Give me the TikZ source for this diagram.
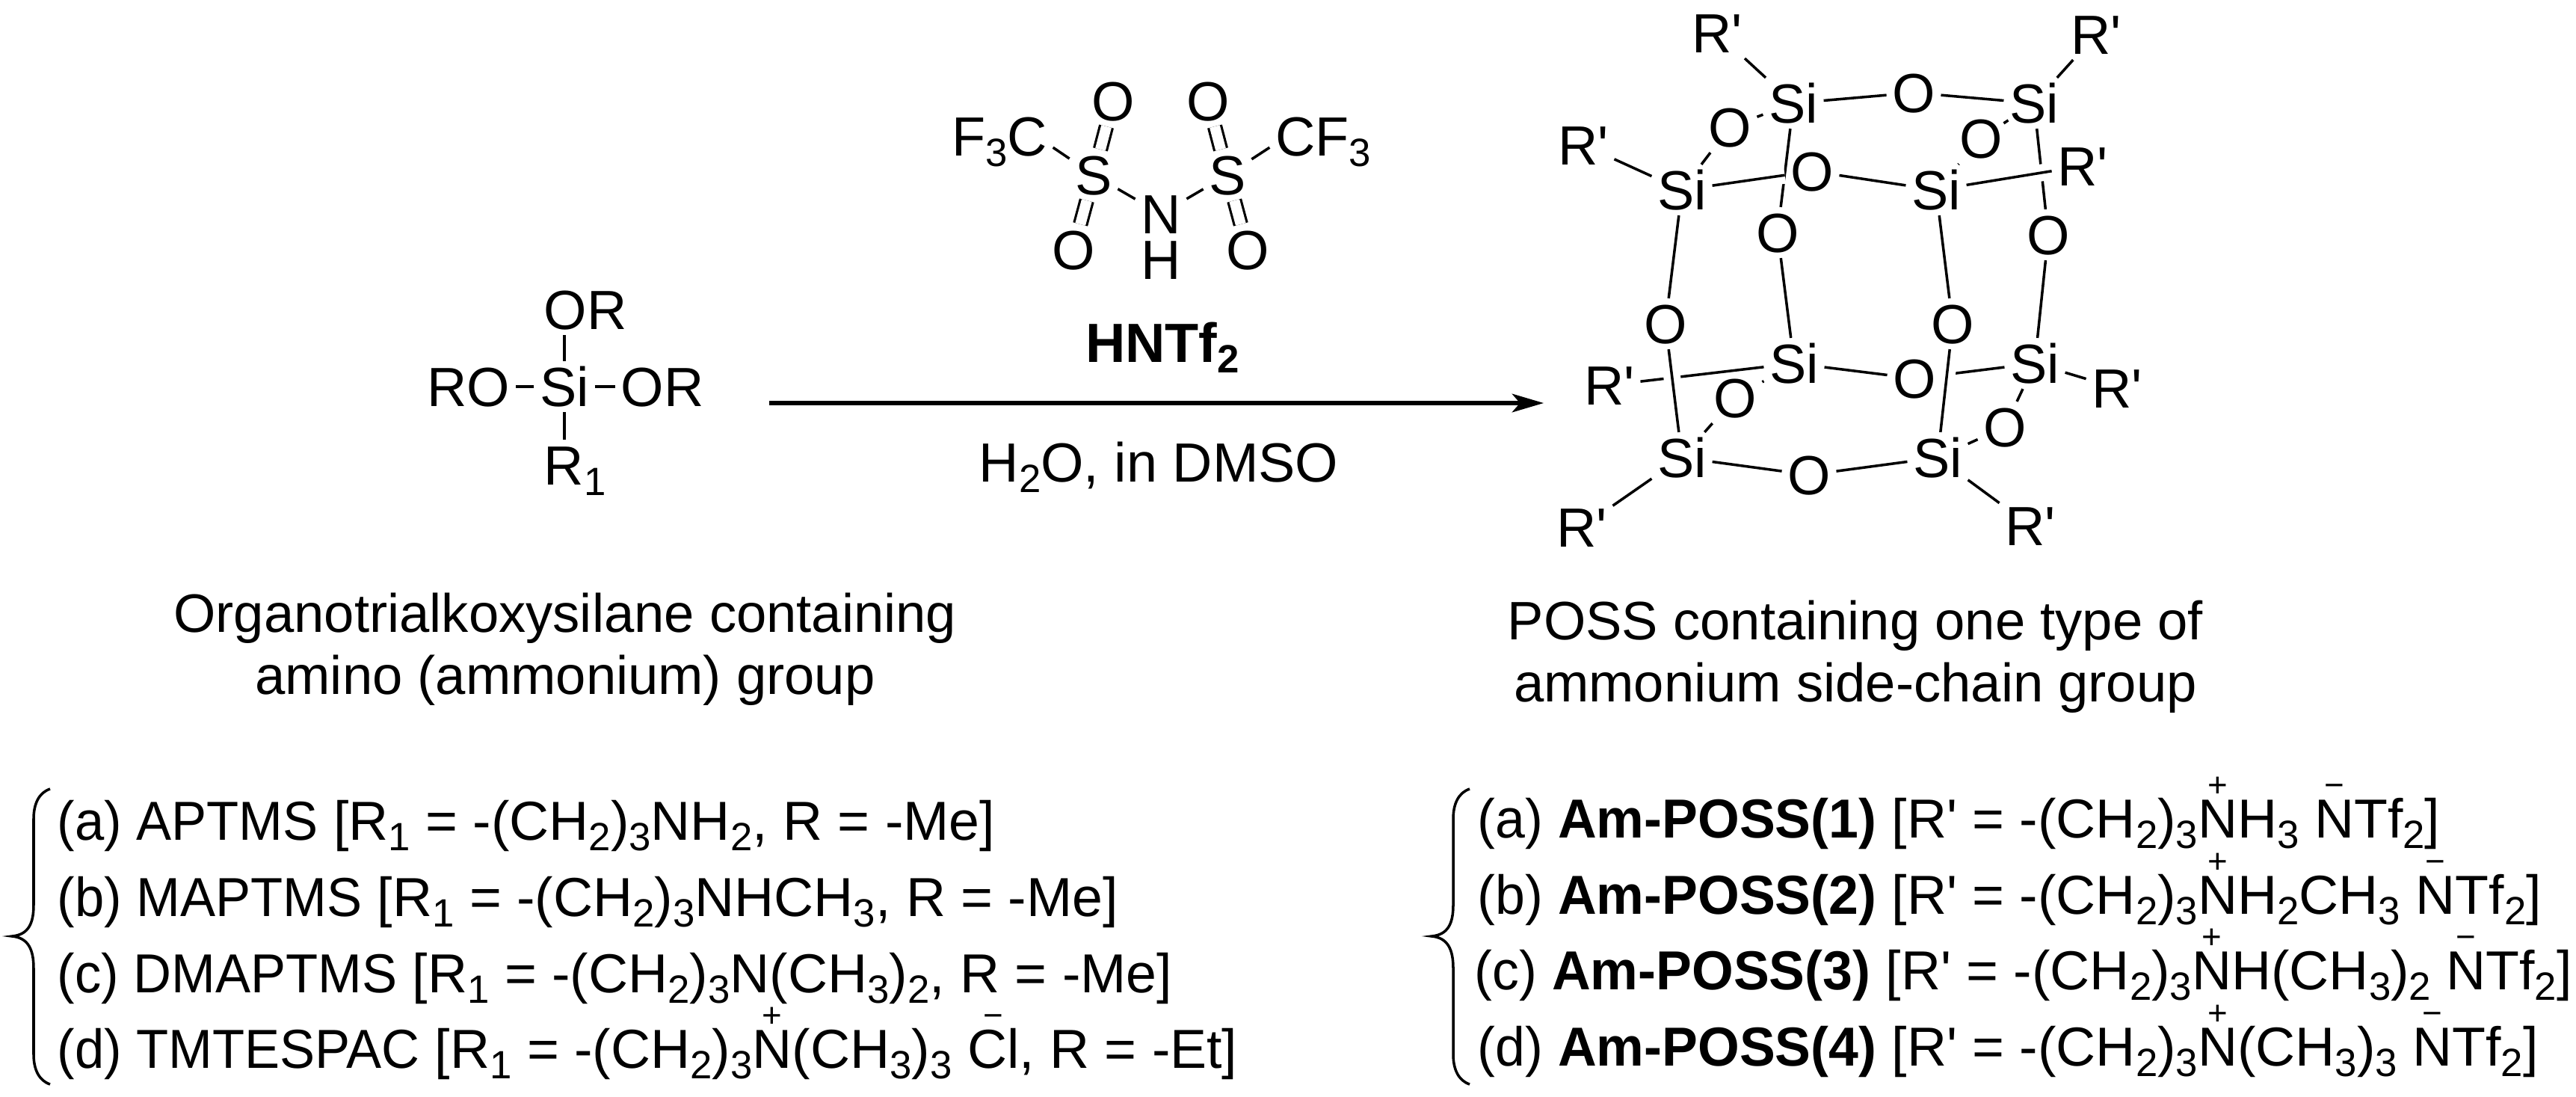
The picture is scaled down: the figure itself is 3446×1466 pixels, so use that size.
\documentclass[tikz,border=0pt]{standalone}
\usepackage{fontspec}
\usepackage{graphicx}
\usepackage{tikz}
\usetikzlibrary{arrows.meta}
\setmainfont{Liberation Sans}
\newcommand{\subs}[1]{\raisebox{-4pt}{\fontsize{15}{15}\selectfont #1}}
\newcommand{\chg}[2]{\leavevmode\ooalign{\hfil\raisebox{15.5pt}{\fontsize{13}{13}\selectfont #1}\hfil\cr #2\cr}}
\newcommand{\head}[2]{\scalebox{#1}[1]{#2}}
\newcommand{\rprime}{R\textquotesingle}

\begin{document}
\begin{tikzpicture}[
        x=0.01cm, y=-0.01cm,
        every node/.style = {font=\fontsize{21}{27}\selectfont},
        atom/.style = {text height=15pt, text depth=0pt, inner sep=2pt},
        caption/.style = {align=center, font=\fontsize{20.6}{23.6}\selectfont},
        listline/.style = {anchor=base west, inner sep=0pt, font=\fontsize{20.9}{27}\selectfont},
        bond/.style = {line width=1pt},
        dblbond/.style = {line width=0.9pt, double, double distance=4pt},
        overbond/.style = {bond, preaction={draw=white, line width=6.5pt}}
    ]
    \useasboundingbox (0,0) rectangle (3446,1466);

    \node[atom] (si0) at (755,517) {Si};
    \node[atom] (orup) at (783,414) {OR};
    \node[atom] (roleft) at (627,517) {RO};
    \node[atom] (orright) at (886,517) {OR};
    \node[atom] (rone) at (769,622) {R\subs{1}};
    \draw[bond] (si0) -- (si0 |- orup.south);
    \draw[bond] (si0) -- (roleft);
    \draw[bond] (si0) -- (orright);
    \draw[bond] (si0) -- (si0 |- rone.north);

    \node[atom] (fc) at (1337,182) {F\subs{3}C};
    \node[atom] (cf) at (1770,182) {CF\subs{3}};
    \node[atom] (sa) at (1463,234) {S};
    \node[atom] (sb) at (1642,234) {S};
    \node[atom] (oa) at (1489,135) {O};
    \node[atom] (ob) at (1616,135) {O};
    \node[atom] (oc) at (1436,334) {O};
    \node[atom] (od) at (1669,334) {O};
    \node[atom] (nh) at (1553,286) {N};
    \node[atom] (hn) at (1553,347) {H};
    \draw[bond] (fc.-12) -- (sa);
    \draw[bond] (cf.192) -- (sb);
    \draw[bond] (sa) -- (nh);
    \draw[bond] (sb) -- (nh);
    \draw[dblbond] (sa) -- (oa);
    \draw[dblbond] (sa) -- (oc);
    \draw[dblbond] (sb) -- (ob);
    \draw[dblbond] (sb) -- (od);

    \node[atom] (hntf) at (1555,458) {\bfseries HNTf\subs{2}};
    \node[atom] (water) at (1550,618) {H\subs{2}O, in DMSO};
    \coordinate (arrowstart) at (1029,539);
    \coordinate (arrowend) at (2065,539);
    \draw[line width=1.5pt, -{Stealth[length=12pt, width=7pt, inset=3pt]}] (arrowstart) -- (arrowend);

    \node[atom] (sia) at (2399,138) {Si};
    \node[atom] (sib) at (2721,138) {Si};
    \node[atom] (sic) at (2250,254) {Si};
    \node[atom] (sid) at (2590,254) {Si};
    \node[atom] (sie) at (2400,486) {Si};
    \node[atom] (sif) at (2722,486) {Si};
    \node[atom] (sig) at (2250,612) {Si};
    \node[atom] (sih) at (2592,612) {Si};
    \node[atom] (oab) at (2560,124) {O};
    \node[atom] (oac) at (2314,170) {O};
    \node[atom] (obd) at (2650,185) {O};
    \node[atom] (ocd) at (2424,229) {O};
    \node[atom] (oae) at (2378,311) {O};
    \node[atom] (obf) at (2740,314) {O};
    \node[atom] (ocg) at (2228,433) {O};
    \node[atom] (odh) at (2612,433) {O};
    \node[atom] (oef) at (2561,506) {O};
    \node[atom] (oeg) at (2321,532) {O};
    \node[atom] (ofh) at (2682,571) {O};
    \node[atom] (ogh) at (2420,635) {O};
    \node[atom] (ra) at (2297,44) {\rprime};
    \node[atom] (rb) at (2804,46) {\rprime};
    \node[atom] (rc) at (2118,194) {\rprime};
    \node[atom] (rd) at (2786,222) {\rprime};
    \node[atom] (re) at (2153,515) {\rprime};
    \node[atom] (rf) at (2832,519) {\rprime};
    \node[atom] (rg) at (2116,705) {\rprime};
    \node[atom] (rh) at (2716,703) {\rprime};

    \draw[bond] (sia) -- (oab);
    \draw[bond] (oab) -- (sib);
    \draw[bond] (sia) -- (oac);
    \draw[bond] (oac) -- (sic);
    \draw[bond] (sib) -- (obd);
    \draw[bond] (obd) -- (sid);
    \draw[bond] (sia) -- (oae);
    \draw[bond] (oae) -- (sie);
    \draw[bond] (sib) -- (obf);
    \draw[bond] (obf) -- (sif);
    \draw[bond] (sic) -- (ocg);
    \draw[bond] (sid) -- (odh);
    \draw[bond] (re) -- (sie);
    \draw[bond] (sie) -- (oef);
    \draw[bond] (oef) -- (sif);
    \draw[bond] (sie) -- (oeg);
    \draw[bond] (oeg) -- (sig);
    \draw[bond] (sif) -- (ofh);
    \draw[bond] (ofh) -- (sih);
    \draw[bond] (sig) -- (ogh);
    \draw[bond] (ogh) -- (sih);
    \draw[bond] (ocd) -- (sid);
    \draw[bond] (ra) -- (sia);
    \draw[bond] (rb) -- (sib);
    \draw[bond] (rc) -- (sic);
    \draw[bond] (sif) -- (rf);
    \draw[bond] (sig) -- (rg);
    \draw[bond] (sih) -- (rh);
    \draw[overbond] (sic) -- (ocd);
    \draw[overbond] (sid) -- (rd);
    \draw[overbond] (ocg) -- (sig);
    \draw[overbond] (odh) -- (sih);

    \node[caption] (silanetext) at (756,868) {Organotrialkoxysilane containing\\amino (ammonium) group};
    \node[caption] (posstext) at (2482,878) {POSS containing one type of\\ammonium side-chain group};

    \foreach \bx in {0,1899} {
        \draw[bond, shift={(\bx,0)}] (67,1055) .. controls (52,1060) and (45,1075) .. (45,1095) -- (45,1210)
            .. controls (45,1235) and (38,1250) .. (16,1252) .. controls (38,1254) and (45,1270) .. (45,1295)
            -- (45,1410) .. controls (45,1430) and (52,1445) .. (67,1450);
    }

    \node[listline] (la) at (76,1123) {\head{.96}{(a) APTMS} [R\subs{1} = -(CH\subs{2})\subs{3}NH\subs{2}, R = -Me]};
    \node[listline] (lb) at (76,1225) {\head{.96}{(b) MAPTMS} [R\subs{1} = -(CH\subs{2})\subs{3}NHCH\subs{3}, R = -Me]};
    \node[listline] (lc) at (76,1327) {\head{.96}{(c) DMAPTMS} [R\subs{1} = -(CH\subs{2})\subs{3}N(CH\subs{3})\subs{2}, R = -Me]};
    \node[listline] (ld) at (76,1428) {\head{.96}{(d) TMTESPAC} [R\subs{1} = -(CH\subs{2})\subs{3}\chg{+}{N}(CH\subs{3})\subs{3} \chg{−}{Cl}, R = -Et]};

    \node[listline] (pa) at (1976,1120) {\head{.975}{(a) \textbf{Am-POSS(1)}} [\rprime{} = -(CH\subs{2})\subs{3}\chg{+}{N}H\subs{3} \chg{−}{N}Tf\subs{2}]};
    \node[listline] (pb) at (1976,1222) {\head{.975}{(b) \textbf{Am-POSS(2)}} [\rprime{} = -(CH\subs{2})\subs{3}\chg{+}{N}H\subs{2}CH\subs{3} \chg{−}{N}Tf\subs{2}]};
    \node[listline] (pc) at (1972,1323) {\head{.975}{(c) \textbf{Am-POSS(3)}} [\rprime{} = -(CH\subs{2})\subs{3}\chg{+}{N}H(CH\subs{3})\subs{2} \chg{−}{N}Tf\subs{2}]};
    \node[listline] (pd) at (1976,1425) {\head{.975}{(d) \textbf{Am-POSS(4)}} [\rprime{} = -(CH\subs{2})\subs{3}\chg{+}{N}(CH\subs{3})\subs{3} \chg{−}{N}Tf\subs{2}]};
\end{tikzpicture}
\end{document}
